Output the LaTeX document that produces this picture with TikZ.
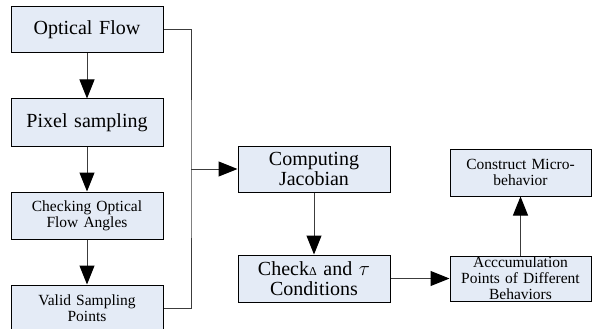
\documentclass[tikz,border=0pt]{standalone}
\usepackage{fontspec}
\setmainfont{Liberation Serif}
\usetikzlibrary{arrows.meta}
\definecolor{boxfill}{RGB}{228,235,246}
\definecolor{linegray}{RGB}{60,60,60}
\tikzset{
  stage/.style={draw=black,line width=1pt,fill=boxfill,inner sep=0pt,align=center,
    minimum width=152pt,text width=150pt,font=\fontsize{20}{20}\selectfont},
  smallstage/.style={stage,font=\fontsize{15.5}{16}\selectfont},
  flow/.style={draw=linegray,line width=1pt,-{Triangle[length=19pt,width=15pt,fill=black,color=black]}},
  link/.style={draw=linegray,line width=1pt}
}
\begin{document}
\begin{tikzpicture}[x=1pt,y=-1pt]
  \useasboundingbox (0,0) rectangle (592,329);
  % left column
  \node[stage,minimum height=46pt] (optflow) at (87,30) {Optical Flow};
  \node[stage,minimum height=47pt] (pixsamp) at (87,122.5) {Pixel sampling};
  \node[smallstage,minimum height=47pt] (angles) at (87,215.5) {Checking Optical\\Flow Angles};
  \node[smallstage,minimum height=47pt] (valid) at (87,308.5) {Valid Sampling\\Points};
  % middle column
  \node[stage,minimum height=46pt] (jacob) at (314,169) {Computing\\Jacobian};
  \node[stage,minimum height=47pt] (check) at (314,278.5) {Check{\fontsize{12}{12}\selectfont Δ} and $\tau$\\Conditions};
  % right column
  \node[smallstage,minimum width=141pt,text width=139pt,minimum height=45pt] (accum) at (520.5,278.5) {Acccumulation\\Points of Different\\Behaviors};
  \node[smallstage,minimum width=141pt,text width=139pt,minimum height=47pt] (micro) at (520.5,172.5) {Construct Micro-\\behavior};
  \coordinate (join) at (191,169);
  \draw[flow] (optflow) -- (pixsamp);
  \draw[flow] (pixsamp) -- (angles);
  \draw[flow] (angles) -- (valid);
  \draw[link] (optflow.east) -| (join) |- (valid.east);
  \draw[flow] (join) -- (jacob.west);
  \draw[flow] (jacob) -- (check);
  \draw[flow] (check) -- (accum);
  \draw[flow] (accum) -- (micro);
\end{tikzpicture}
\end{document}
